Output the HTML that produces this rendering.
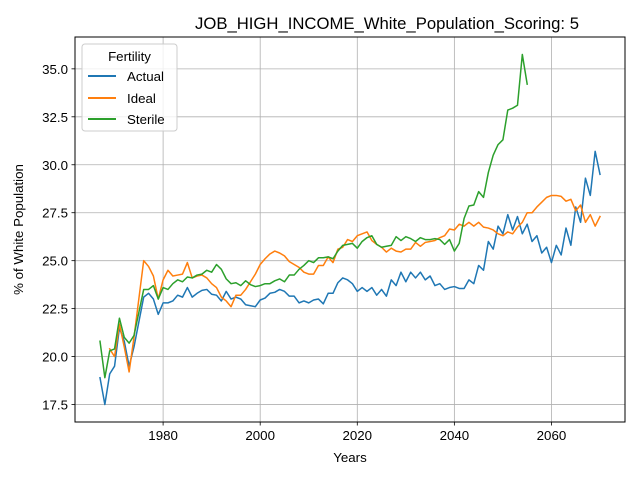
<!DOCTYPE html>
<html><head><meta charset="utf-8"><style>
body{margin:0;background:#fff;}
svg{display:block;font-family:"Liberation Sans","DejaVu Sans",sans-serif;}
</style></head><body>
<svg id="chart" width="640" height="480" viewBox="0 0 640 480">
<rect x="0" y="0" width="640" height="480" fill="#fff"/>
<text x="387" y="29" font-size="16.7" text-anchor="middle" fill="#000">JOB_HIGH_INCOME_White_Population_Scoring: 5</text>
<g id="grid"></g>
<g id="series"></g>
<rect x="75" y="37" width="550" height="385" fill="none" stroke="#000" stroke-width="1"/>
<g id="xticks"></g>
<g id="yticks"></g>
<text x="350" y="462" font-size="13.3" text-anchor="middle">Years</text>
<text transform="translate(23,229.5) rotate(-90)" font-size="13.3" text-anchor="middle">% of White Population</text>
<g>
<rect x="82" y="44" width="95" height="87" rx="3" fill="#fff" fill-opacity="0.8" stroke="#ccc"/>
<text x="129.5" y="61" font-size="13.3" text-anchor="middle">Fertility</text>
<g><line x1="88" y1="76" x2="116" y2="76" stroke="#1f77b4" stroke-width="2"/><text x="127" y="81" font-size="13.3">Actual</text></g>
<g><line x1="88" y1="98" x2="116" y2="98" stroke="#ff7f0e" stroke-width="2"/><text x="127" y="103" font-size="13.3">Ideal</text></g>
<g><line x1="88" y1="119" x2="116" y2="119" stroke="#2ca02c" stroke-width="2"/><text x="127" y="124" font-size="13.3">Sterile</text></g>
</g>
</svg>
<script>
const startYear = 1967;
const actual = [18.9,17.5,19.1,19.5,21.5,20.8,19.5,20.5,21.8,23.1,23.3,23.0,22.2,22.8,22.8,22.9,23.2,23.1,23.6,23.1,23.3,23.45,23.5,23.25,23.2,22.9,23.4,23.0,23.1,23.0,22.7,22.65,22.6,22.95,23.05,23.3,23.35,23.5,23.4,23.15,23.15,22.8,22.9,22.8,22.95,23.0,22.75,23.3,23.3,23.85,24.1,24.0,23.8,23.4,23.6,23.4,23.6,23.2,23.5,23.15,24.0,23.7,24.4,23.9,24.4,24.1,24.4,24.0,24.2,23.7,23.8,23.5,23.6,23.65,23.55,23.55,24.0,23.8,24.75,24.5,26.0,25.6,26.8,26.4,27.4,26.6,27.3,26.4,26.9,26.0,26.3,25.4,25.7,24.9,25.8,25.3,26.7,25.8,27.8,27.0,29.3,28.4,30.7,29.5];
const ideal = [null,null,20.4,20.0,21.7,20.5,19.2,21.0,23.0,25.0,24.7,24.2,23.0,24.0,24.5,24.2,24.25,24.3,24.9,24.1,24.2,24.25,24.1,23.8,23.6,23.1,22.9,22.6,23.2,23.2,23.5,23.9,24.3,24.8,25.1,25.35,25.5,25.4,25.25,24.95,24.8,24.65,24.4,24.3,24.3,24.75,24.75,25.2,24.9,25.6,25.7,26.1,26.0,26.3,26.4,26.5,26.05,25.85,25.7,25.45,25.65,25.5,25.45,25.6,25.6,25.95,25.75,25.95,26.0,26.05,26.2,26.3,26.65,26.6,26.9,26.8,27.0,26.8,27.0,26.75,26.7,26.6,26.4,26.3,26.5,26.4,26.75,27.0,27.5,27.5,27.8,28.05,28.3,28.4,28.4,28.35,28.1,28.2,27.6,27.9,27.0,27.4,26.8,27.3];
const sterile = [20.8,18.9,20.3,20.4,22.0,21.0,20.7,21.1,22.3,23.5,23.5,23.7,23.0,23.6,23.5,23.8,24.0,23.9,24.15,24.1,24.25,24.3,24.5,24.4,24.8,24.55,24.05,23.8,23.85,23.7,23.95,23.75,23.65,23.7,23.8,23.8,23.95,24.05,23.9,24.25,24.25,24.55,24.75,25.0,24.9,25.15,25.15,25.2,25.1,25.5,25.8,25.85,25.9,25.65,26.0,26.2,26.3,25.85,25.7,25.75,25.8,26.25,26.05,26.25,26.15,26.0,26.2,26.1,26.1,26.15,26.1,25.85,26.1,25.5,25.9,27.2,27.85,27.9,28.6,28.3,29.6,30.5,31.05,31.3,32.85,32.95,33.1,35.75,34.2];
const xTicks = [1980,2000,2020,2040,2060];
const yTicks = [17.5,20.0,22.5,25.0,27.5,30.0,32.5,35.0];

const L=75,R=625,T=37,B=422;
const xMin=1961.85,xMax=2075.15,yMin=16.59,yMax=36.66;
function xs(v){return L+(v-xMin)/(xMax-xMin)*(R-L);}
function ys(v){return B-(v-yMin)/(yMax-yMin)*(B-T);}
const NS="http://www.w3.org/2000/svg";
const grid=document.getElementById('grid'),xg=document.getElementById('xticks'),yg=document.getElementById('yticks'),sg=document.getElementById('series');
function mk(tag,attrs,parent){const e=document.createElementNS(NS,tag);for(const k in attrs)e.setAttribute(k,attrs[k]);parent.appendChild(e);return e;}
xTicks.forEach(t=>{
  const x=xs(t);
  const g=mk('line',{x1:x,x2:x,y1:T,y2:B,stroke:'#b0b0b0','stroke-width':0.8},grid);
  
  
  const tk=mk('line',{x1:x,x2:x,y1:B,y2:B+3.5,stroke:'#000','stroke-width':0.8},xg);
  
  
  const tx=mk('text',{x:x,y:B+18,'font-size':13.3,'text-anchor':'middle'},xg);
  tx.textContent=t;
  
  
});
yTicks.forEach(t=>{
  const y=ys(t);
  const g=mk('line',{x1:L,x2:R,y1:y,y2:y,stroke:'#b0b0b0','stroke-width':0.8},grid);
  
  
  const tk=mk('line',{x1:L-3.5,x2:L,y1:y,y2:y,stroke:'#000','stroke-width':0.8},yg);
  
  
  const tx=mk('text',{x:L-7,y:y+5,'font-size':13.3,'text-anchor':'end'},yg);
  tx.textContent=t.toFixed(1);
  
  
});
function draw(arr,color,name){
  let d='',pen=false;
  arr.forEach((v,i)=>{
    if(v===null){pen=false;return;}
    d+=(pen?'L':'M')+xs(startYear+i).toFixed(2)+','+ys(v).toFixed(2);pen=true;
  });
  const p=mk('path',{d:d,fill:'none',stroke:color,'stroke-width':1.5,'stroke-linejoin':'round','stroke-linecap':'square'},sg);
  
  
}
draw(actual,'#1f77b4','actual-line');
draw(ideal,'#ff7f0e','ideal-line');
draw(sterile,'#2ca02c','sterile-line');
</script>
</body></html>
